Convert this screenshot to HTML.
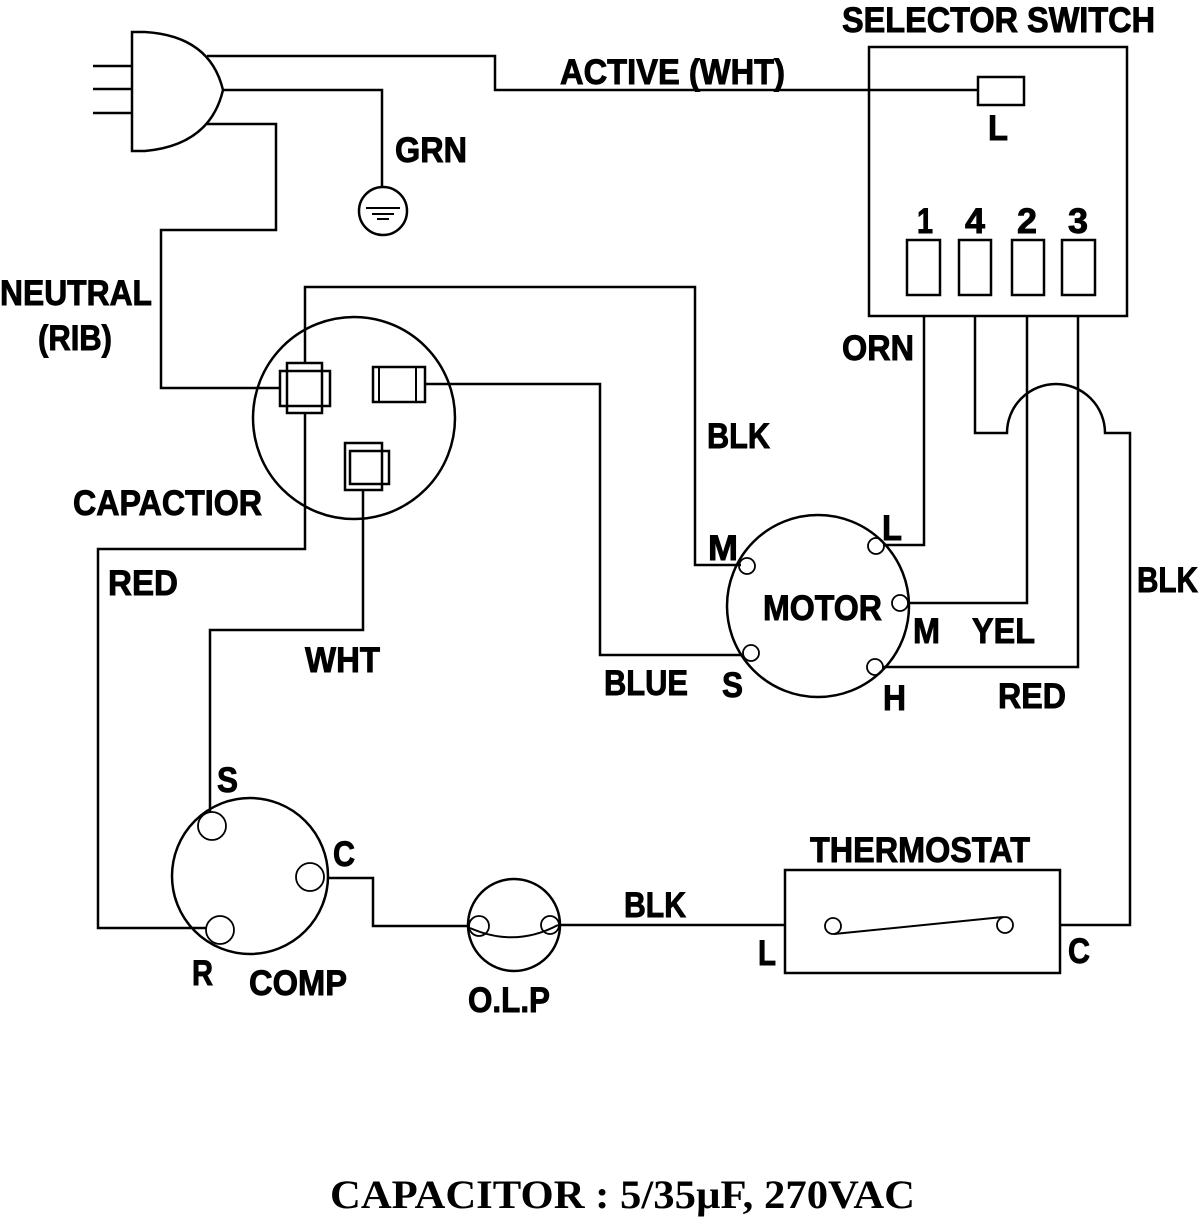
<!DOCTYPE html>
<html><head><style>html,body{margin:0;padding:0;background:#fff}svg{display:block}</style></head>
<body>
<svg width="1200" height="1220" viewBox="0 0 1200 1220" xmlns="http://www.w3.org/2000/svg">
<g fill="none" stroke="#000" stroke-width="2.5">
<path d="M132,32 L132,151 L145,151 Q210,145 223,90 Q210,36 145,32 Z"/>
<path d="M93,66H132M93,89H132M93,113H132"/>
<path d="M207,56H495V90H978"/>
<path d="M223,90H382V188"/>
<circle cx="383" cy="211" r="24"/>
<path d="M366,208H400M372,214H394M377,219H389" stroke-width="2"/>
<path d="M207,124H276V230H161V388H280"/>
<circle cx="354" cy="418" r="101"/>
<rect x="287" y="363" width="35" height="50"/>
<rect x="280" y="371" width="50" height="35"/>
<rect x="373" y="367" width="52" height="35"/>
<path d="M379,367V402M416,367V402" stroke-width="2"/>
<rect x="345" y="443" width="37" height="47"/>
<rect x="350" y="451" width="39" height="33"/>
<path d="M305,363V287H695V565H741"/>
<path d="M305,413V549H98V928H206"/>
<path d="M425,384H600V655H743"/>
<path d="M363,490V630H210V812"/>
<rect x="869" y="47" width="258" height="269"/>
<rect x="978" y="77" width="46" height="28"/>
<rect x="907" y="240" width="33" height="55"/>
<rect x="959" y="240" width="32" height="55"/>
<rect x="1012" y="240" width="32" height="55"/>
<rect x="1062" y="240" width="33" height="55"/>
<path d="M924,316V545H884"/>
<path d="M975,316V433H1007A49,49 0 0 1 1105,433H1130V925H1060"/>
<path d="M1027,316V603H908"/>
<path d="M1078,316V667H883"/>
<circle cx="818" cy="606" r="91"/>
<circle cx="747" cy="566" r="8" stroke-width="1.8"/>
<circle cx="876" cy="546" r="8" stroke-width="1.8"/>
<circle cx="900" cy="603" r="8" stroke-width="1.8"/>
<circle cx="751" cy="653" r="8" stroke-width="1.8"/>
<circle cx="875" cy="667" r="8" stroke-width="1.8"/>
<circle cx="250" cy="876" r="78"/>
<circle cx="212" cy="826" r="14" stroke-width="1.8"/>
<circle cx="310" cy="877" r="14" stroke-width="1.8"/>
<circle cx="220" cy="930" r="14" stroke-width="1.8"/>
<path d="M327,878H373V926H470"/>
<circle cx="514" cy="925" r="46"/>
<circle cx="479" cy="926" r="10" stroke-width="1.8"/>
<circle cx="550" cy="925" r="9" stroke-width="1.8"/>
<path d="M470,928Q515,948 558,925" stroke-width="2"/>
<path d="M560,925H786"/>
<rect x="785" y="870" width="275" height="103"/>
<circle cx="833" cy="926" r="8" stroke-width="1.8"/>
<circle cx="1005" cy="925" r="8" stroke-width="1.8"/>
<path d="M834,934L1003,917" stroke-width="2"/>
</g>
<g font-family="'Liberation Sans',sans-serif" font-weight="bold" font-size="35" fill="#000" stroke="#000" stroke-width="0.9">
<text x="842" y="32" textLength="313" lengthAdjust="spacingAndGlyphs">SELECTOR SWITCH</text>
<text x="560" y="84" textLength="225" lengthAdjust="spacingAndGlyphs">ACTIVE (WHT)</text>
<text x="988" y="140" textLength="20" lengthAdjust="spacingAndGlyphs">L</text>
<text x="917" y="233" textLength="16" lengthAdjust="spacingAndGlyphs">1</text>
<text x="965" y="233" textLength="20" lengthAdjust="spacingAndGlyphs">4</text>
<text x="1017" y="233" textLength="20" lengthAdjust="spacingAndGlyphs">2</text>
<text x="1068" y="233" textLength="20" lengthAdjust="spacingAndGlyphs">3</text>
<text x="395" y="162" textLength="72" lengthAdjust="spacingAndGlyphs">GRN</text>
<text x="0" y="305" textLength="152" lengthAdjust="spacingAndGlyphs">NEUTRAL</text>
<text x="38" y="350" textLength="74" lengthAdjust="spacingAndGlyphs">(RIB)</text>
<text x="73" y="515" textLength="189" lengthAdjust="spacingAndGlyphs">CAPACTIOR</text>
<text x="108" y="595" textLength="70" lengthAdjust="spacingAndGlyphs">RED</text>
<text x="305" y="672" textLength="75" lengthAdjust="spacingAndGlyphs">WHT</text>
<text x="707" y="448" textLength="63" lengthAdjust="spacingAndGlyphs">BLK</text>
<text x="842" y="360" textLength="72" lengthAdjust="spacingAndGlyphs">ORN</text>
<text x="708" y="560" textLength="30" lengthAdjust="spacingAndGlyphs">M</text>
<text x="882" y="540" textLength="20" lengthAdjust="spacingAndGlyphs">L</text>
<text x="763" y="620" textLength="119" lengthAdjust="spacingAndGlyphs">MOTOR</text>
<text x="913" y="643" textLength="27" lengthAdjust="spacingAndGlyphs">M</text>
<text x="972" y="643" textLength="63" lengthAdjust="spacingAndGlyphs">YEL</text>
<text x="604" y="695" textLength="84" lengthAdjust="spacingAndGlyphs">BLUE</text>
<text x="722" y="697" textLength="21" lengthAdjust="spacingAndGlyphs">S</text>
<text x="883" y="710" textLength="23" lengthAdjust="spacingAndGlyphs">H</text>
<text x="998" y="708" textLength="68" lengthAdjust="spacingAndGlyphs">RED</text>
<text x="1137" y="592" textLength="61" lengthAdjust="spacingAndGlyphs">BLK</text>
<text x="217" y="792" textLength="21" lengthAdjust="spacingAndGlyphs">S</text>
<text x="333" y="866" textLength="22" lengthAdjust="spacingAndGlyphs">C</text>
<text x="192" y="985" textLength="21" lengthAdjust="spacingAndGlyphs">R</text>
<text x="249" y="995" textLength="98" lengthAdjust="spacingAndGlyphs">COMP</text>
<text x="468" y="1012" textLength="82" lengthAdjust="spacingAndGlyphs">O.L.P</text>
<text x="624" y="917" textLength="62" lengthAdjust="spacingAndGlyphs">BLK</text>
<text x="810" y="862" textLength="220" lengthAdjust="spacingAndGlyphs">THERMOSTAT</text>
<text x="758" y="965" textLength="18" lengthAdjust="spacingAndGlyphs">L</text>
<text x="1068" y="963" textLength="22" lengthAdjust="spacingAndGlyphs">C</text>
</g>
<text x="330" y="1208" font-family="'Liberation Serif',serif" font-weight="bold" font-size="40" textLength="585" lengthAdjust="spacingAndGlyphs">CAPACITOR : 5/35µF, 270VAC</text>
</svg>
</body></html>
